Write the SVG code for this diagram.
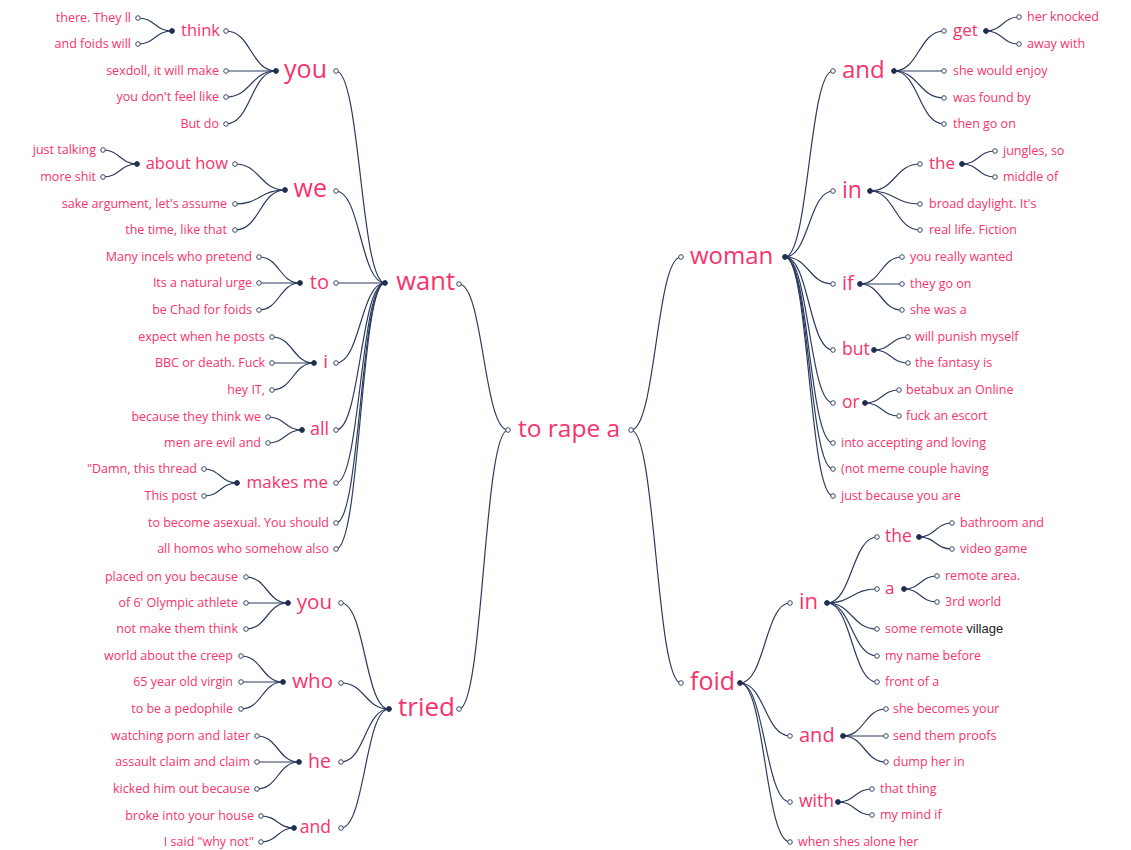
<svg xmlns="http://www.w3.org/2000/svg" width="1131" height="850" viewBox="0 0 1131 850">
<style>
text{font-family:"Open Sans","Noto Sans",sans-serif;fill:#f7336c}
.l{font-size:12.5px}
.e{text-anchor:end}
.o{fill:#fff;stroke:#3a4868;stroke-width:1}
.j{fill:#1f2d4e;stroke:#1f2d4e;stroke-width:1}
#links path{fill:none;stroke:#2b3a5e;stroke-width:1.2}
.v{fill:#222;font-family:"Liberation Sans",Arial,sans-serif;font-size:13px}
</style>
<rect width="1131" height="850" fill="#fff"/>

<g id="links">
<!-- root to second level -->
<path d="M459 284C483.5 284 483.5 430 508 430"/>
<path d="M459 709C483.5 709 483.5 430 508 430"/>
<path d="M631 430C656 430 656 257 681 257"/>
<path d="M631 430C656 430 656 683 681 683"/>
<!-- want -->
<path d="M336 71C360.5 71 360.5 283 385 283"/>
<path d="M336 191C360.5 191 360.5 283 385 283"/>
<path d="M336 283H385"/>
<path d="M336 363C360.5 363 360.5 283 385 283"/>
<path d="M336 430C360.5 430 360.5 283 385 283"/>
<path d="M336 483C360.5 483 360.5 283 385 283"/>
<path d="M336 523C360.5 523 360.5 283 385 283"/>
<path d="M336 549C360.5 549 360.5 283 385 283"/>
<!-- you -->
<path d="M226 31C251 31 251 71 276 71"/>
<path d="M226 71H276"/>
<path d="M226 97C251 97 251 71 276 71"/>
<path d="M226 124C251 124 251 71 276 71"/>
<path d="M138 18C155 18 155 31 172 31"/>
<path d="M138 44C155 44 155 31 172 31"/>
<!-- we -->
<path d="M235 164C260 164 260 190 285 190"/>
<path d="M235 204C260 204 260 190 285 190"/>
<path d="M235 230C260 230 260 190 285 190"/>
<path d="M103 150C120 150 120 164 137 164"/>
<path d="M103 177C120 177 120 164 137 164"/>
<!-- to -->
<path d="M259 257C279.5 257 279.5 283 300 283"/>
<path d="M259 283H300"/>
<path d="M259 310C279.5 310 279.5 283 300 283"/>
<!-- i -->
<path d="M272 337C293 337 293 363 314 363"/>
<path d="M272 363H314"/>
<path d="M272 390C293 390 293 363 314 363"/>
<!-- all -->
<path d="M268 417C285 417 285 430 302 430"/>
<path d="M268 443C285 443 285 430 302 430"/>
<!-- makes me -->
<path d="M204 469C220.5 469 220.5 483 237 483"/>
<path d="M204 496C220.5 496 220.5 483 237 483"/>
<!-- tried -->
<path d="M341 603C365 603 365 709 389 709"/>
<path d="M341 683C365 683 365 709 389 709"/>
<path d="M341 762C365 762 365 709 389 709"/>
<path d="M341 828C365 828 365 709 389 709"/>
<path d="M246 577C267 577 267 603 288 603"/>
<path d="M246 603H288"/>
<path d="M246 629C267 629 267 603 288 603"/>
<path d="M241 656C262 656 262 682 283 682"/>
<path d="M241 682H283"/>
<path d="M241 709C262 709 262 682 283 682"/>
<path d="M257 736C278 736 278 762 299 762"/>
<path d="M257 762H299"/>
<path d="M257 789C278 789 278 762 299 762"/>
<path d="M261 816C277.5 816 277.5 828 294 828"/>
<path d="M261 842C277.5 842 277.5 828 294 828"/>
<!-- woman -->
<path d="M785 257C809 257 809 71 833 71"/>
<path d="M785 257C809 257 809 191 833 191"/>
<path d="M785 257C809 257 809 284 833 284"/>
<path d="M785 257C809 257 809 350 833 350"/>
<path d="M785 257C809 257 809 403 833 403"/>
<path d="M785 257C809 257 809 443 833 443"/>
<path d="M785 257C809 257 809 469 833 469"/>
<path d="M785 257C809 257 809 496 833 496"/>
<path d="M894 71C919 71 919 31 944 31"/>
<path d="M894 71H944"/>
<path d="M894 71C919 71 919 98 944 98"/>
<path d="M894 71C919 71 919 124 944 124"/>
<path d="M986 31C1002.5 31 1002.5 17 1019 17"/>
<path d="M986 31C1002.5 31 1002.5 44 1019 44"/>
<path d="M870 191C895 191 895 164 920 164"/>
<path d="M870 191C895 191 895 204 920 204"/>
<path d="M870 191C895 191 895 230 920 230"/>
<path d="M962 164C978.5 164 978.5 151 995 151"/>
<path d="M962 164C978.5 164 978.5 177 995 177"/>
<path d="M860 284C881 284 881 257 902 257"/>
<path d="M860 284H902"/>
<path d="M860 284C881 284 881 310 902 310"/>
<path d="M874 350C891 350 891 337 908 337"/>
<path d="M874 350C891 350 891 363 908 363"/>
<path d="M865 403C882 403 882 390 899 390"/>
<path d="M865 403C882 403 882 416 899 416"/>
<!-- foid -->
<path d="M740 683C765 683 765 603 790 603"/>
<path d="M740 683C765 683 765 736 790 736"/>
<path d="M740 683C765 683 765 802 790 802"/>
<path d="M740 683C765 683 765 842 790 842"/>
<path d="M827 603C852 603 852 537 877 537"/>
<path d="M827 603C852 603 852 589 877 589"/>
<path d="M827 603C852 603 852 629 877 629"/>
<path d="M827 603C852 603 852 656 877 656"/>
<path d="M827 603C852 603 852 682 877 682"/>
<path d="M919 537C935.5 537 935.5 523 952 523"/>
<path d="M919 537C935.5 537 935.5 549 952 549"/>
<path d="M904 589C920.5 589 920.5 576 937 576"/>
<path d="M904 589C920.5 589 920.5 602 937 602"/>
<path d="M843 736C864.5 736 864.5 709 886 709"/>
<path d="M843 736H886"/>
<path d="M843 736C864.5 736 864.5 762 886 762"/>
<path d="M838 802C855 802 855 789 872 789"/>
<path d="M838 802C855 802 855 815 872 815"/>
</g>

<!-- root -->
<g id="n-root"><text x="518" y="437" style="font-size:24.5px">to rape a</text><circle class="o" cx="508" cy="430" r="2.3"/><circle class="o" cx="631" cy="430" r="2.3"/></g>

<!-- left half: want -->
<g id="n-want"><text class="e" x="455" y="290" style="font-size:25.5px">want</text><circle class="j" cx="385" cy="283" r="2.4"/><circle class="o" cx="459" cy="284" r="2.3"/></g>
<g id="n-want-you"><text class="e" x="327" y="78" style="font-size:25px">you</text><circle class="j" cx="276" cy="71" r="2.4"/><circle class="o" cx="336" cy="71" r="2.3"/></g>
<g id="n-you-think"><text class="e" x="220" y="35.6" style="font-size:16.5px">think</text><circle class="j" cx="172" cy="31" r="2.4"/><circle class="o" cx="226" cy="31" r="2.3"/></g>
<g id="l-1"><text class="l e" x="131" y="21.5">there. They ll</text><circle class="o" cx="138" cy="18" r="2.3"/></g>
<g id="l-2"><text class="l e" x="131" y="47.5">and foids will</text><circle class="o" cx="138" cy="44" r="2.3"/></g>
<g id="l-3"><text class="l e" x="219" y="74.5">sexdoll, it will make</text><circle class="o" cx="226" cy="71" r="2.3"/></g>
<g id="l-4"><text class="l e" x="219" y="100.5">you don't feel like</text><circle class="o" cx="226" cy="97" r="2.3"/></g>
<g id="l-5"><text class="l e" x="219" y="127.5">But do</text><circle class="o" cx="226" cy="124" r="2.3"/></g>
<g id="n-want-we"><text class="e" x="327" y="197" style="font-size:25px">we</text><circle class="j" cx="285" cy="190" r="2.4"/><circle class="o" cx="336" cy="191" r="2.3"/></g>
<g id="n-we-about"><text class="e" x="228" y="168.6" style="font-size:16.5px">about how</text><circle class="j" cx="137" cy="164" r="2.4"/><circle class="o" cx="235" cy="164" r="2.3"/></g>
<g id="l-6"><text class="l e" x="96" y="153.5">just talking</text><circle class="o" cx="103" cy="150" r="2.3"/></g>
<g id="l-7"><text class="l e" x="96" y="180.5">more shit</text><circle class="o" cx="103" cy="177" r="2.3"/></g>
<g id="l-8"><text class="l e" x="227" y="207.5">sake argument, let's assume</text><circle class="o" cx="235" cy="204" r="2.3"/></g>
<g id="l-9"><text class="l e" x="227" y="233.5">the time, like that</text><circle class="o" cx="235" cy="230" r="2.3"/></g>
<g id="n-want-to"><text class="e" x="329" y="288.6" style="font-size:20px">to</text><circle class="j" cx="300" cy="283" r="2.4"/><circle class="o" cx="336" cy="283" r="2.3"/></g>
<g id="l-10"><text class="l e" x="252" y="260.5">Many incels who pretend</text><circle class="o" cx="259" cy="257" r="2.3"/></g>
<g id="l-11"><text class="l e" x="252" y="286.5">Its a natural urge</text><circle class="o" cx="259" cy="283" r="2.3"/></g>
<g id="l-12"><text class="l e" x="252" y="313.5">be Chad for foids</text><circle class="o" cx="259" cy="310" r="2.3"/></g>
<g id="n-want-i"><text class="e" x="328" y="368.3" style="font-size:19px">i</text><circle class="j" cx="314" cy="363" r="2.4"/><circle class="o" cx="336" cy="363" r="2.3"/></g>
<g id="l-13"><text class="l e" x="265" y="340.5">expect when he posts</text><circle class="o" cx="272" cy="337" r="2.3"/></g>
<g id="l-14"><text class="l e" x="265" y="366.5">BBC or death. Fuck</text><circle class="o" cx="272" cy="363" r="2.3"/></g>
<g id="l-15"><text class="l e" x="265" y="393.5">hey IT,</text><circle class="o" cx="272" cy="390" r="2.3"/></g>
<g id="n-want-all"><text class="e" x="329" y="435" style="font-size:18px">all</text><circle class="j" cx="302" cy="430" r="2.4"/><circle class="o" cx="336" cy="430" r="2.3"/></g>
<g id="l-16"><text class="l e" x="261" y="420.5">because they think we</text><circle class="o" cx="268" cy="417" r="2.3"/></g>
<g id="l-17"><text class="l e" x="261" y="446.5">men are evil and</text><circle class="o" cx="268" cy="443" r="2.3"/></g>
<g id="n-want-makes"><text class="e" x="328" y="488" style="font-size:17px">makes me</text><circle class="j" cx="237" cy="483" r="2.4"/><circle class="o" cx="336" cy="483" r="2.3"/></g>
<g id="l-18"><text class="l e" x="197" y="472.5">"Damn, this thread</text><circle class="o" cx="204" cy="469" r="2.3"/></g>
<g id="l-19"><text class="l e" x="197" y="499.5">This post</text><circle class="o" cx="204" cy="496" r="2.3"/></g>
<g id="l-20"><text class="l e" x="329" y="526.5">to become asexual. You should</text><circle class="o" cx="336" cy="523" r="2.3"/></g>
<g id="l-21"><text class="l e" x="329" y="552.5">all homos who somehow also</text><circle class="o" cx="336" cy="549" r="2.3"/></g>

<!-- left half: tried -->
<g id="n-tried"><text class="e" x="455" y="716" style="font-size:26px">tried</text><circle class="j" cx="389" cy="709" r="2.4"/><circle class="o" cx="459" cy="709" r="2.3"/></g>
<g id="n-tried-you"><text class="e" x="332" y="609" style="font-size:20.5px">you</text><circle class="j" cx="288" cy="603" r="2.4"/><circle class="o" cx="341" cy="603" r="2.3"/></g>
<g id="l-22"><text class="l e" x="238" y="580.5">placed on you because</text><circle class="o" cx="246" cy="577" r="2.3"/></g>
<g id="l-23"><text class="l e" x="238" y="606.5">of 6' Olympic athlete</text><circle class="o" cx="246" cy="603" r="2.3"/></g>
<g id="l-24"><text class="l e" x="238" y="632.5">not make them think</text><circle class="o" cx="246" cy="629" r="2.3"/></g>
<g id="n-tried-who"><text class="e" x="333" y="688" style="font-size:20.5px">who</text><circle class="j" cx="283" cy="682" r="2.4"/><circle class="o" cx="341" cy="683" r="2.3"/></g>
<g id="l-25"><text class="l e" x="233" y="659.5">world about the creep</text><circle class="o" cx="241" cy="656" r="2.3"/></g>
<g id="l-26"><text class="l e" x="233" y="685.5">65 year old virgin</text><circle class="o" cx="241" cy="682" r="2.3"/></g>
<g id="l-27"><text class="l e" x="233" y="712.5">to be a pedophile</text><circle class="o" cx="241" cy="709" r="2.3"/></g>
<g id="n-tried-he"><text class="e" x="331" y="767.5" style="font-size:19.5px">he</text><circle class="j" cx="299" cy="762" r="2.4"/><circle class="o" cx="341" cy="762" r="2.3"/></g>
<g id="l-28"><text class="l e" x="250" y="739.5">watching porn and later</text><circle class="o" cx="257" cy="736" r="2.3"/></g>
<g id="l-29"><text class="l e" x="250" y="765.5">assault claim and claim</text><circle class="o" cx="257" cy="762" r="2.3"/></g>
<g id="l-30"><text class="l e" x="250" y="792.5">kicked him out because</text><circle class="o" cx="257" cy="789" r="2.3"/></g>
<g id="n-tried-and"><text class="e" x="331" y="833" style="font-size:17.5px">and</text><circle class="j" cx="294" cy="828" r="2.4"/><circle class="o" cx="341" cy="828" r="2.3"/></g>
<g id="l-31"><text class="l e" x="254" y="819.5">broke into your house</text><circle class="o" cx="261" cy="816" r="2.3"/></g>
<g id="l-32"><text class="l e" x="254" y="845.5">I said "why not"</text><circle class="o" cx="261" cy="842" r="2.3"/></g>

<!-- right half: woman -->
<g id="n-woman"><text x="690" y="263.7" style="font-size:24px">woman</text><circle class="o" cx="681" cy="257" r="2.3"/><circle class="j" cx="785" cy="257" r="2.4"/></g>
<g id="n-woman-and"><text x="842" y="78" style="font-size:24px">and</text><circle class="o" cx="833" cy="71" r="2.3"/><circle class="j" cx="894" cy="71" r="2.4"/></g>
<g id="n-and-get"><text x="953" y="36" style="font-size:17px">get</text><circle class="o" cx="944" cy="31" r="2.3"/><circle class="j" cx="986" cy="31" r="2.4"/></g>
<g id="r-1"><text class="l" x="1027" y="20.5">her knocked</text><circle class="o" cx="1019" cy="17" r="2.3"/></g>
<g id="r-2"><text class="l" x="1027" y="47.5">away with</text><circle class="o" cx="1019" cy="44" r="2.3"/></g>
<g id="r-3"><text class="l" x="953" y="74.5">she would enjoy</text><circle class="o" cx="944" cy="71" r="2.3"/></g>
<g id="r-4"><text class="l" x="953" y="101.5">was found by</text><circle class="o" cx="944" cy="98" r="2.3"/></g>
<g id="r-5"><text class="l" x="953" y="127.5">then go on</text><circle class="o" cx="944" cy="124" r="2.3"/></g>
<g id="n-woman-in"><text x="842" y="197.5" style="font-size:23px">in</text><circle class="o" cx="833" cy="191" r="2.3"/><circle class="j" cx="870" cy="191" r="2.4"/></g>
<g id="n-in-the"><text x="929" y="168.8" style="font-size:17px">the</text><circle class="o" cx="920" cy="164" r="2.3"/><circle class="j" cx="962" cy="164" r="2.4"/></g>
<g id="r-6"><text class="l" x="1003" y="154.5">jungles, so</text><circle class="o" cx="995" cy="151" r="2.3"/></g>
<g id="r-7"><text class="l" x="1003" y="180.5">middle of</text><circle class="o" cx="995" cy="177" r="2.3"/></g>
<g id="r-8"><text class="l" x="929" y="207.5">broad daylight. It's</text><circle class="o" cx="920" cy="204" r="2.3"/></g>
<g id="r-9"><text class="l" x="929" y="233.5">real life. Fiction</text><circle class="o" cx="920" cy="230" r="2.3"/></g>
<g id="n-woman-if"><text x="842" y="289.6" style="font-size:20px">if</text><circle class="o" cx="833" cy="284" r="2.3"/><circle class="j" cx="860" cy="284" r="2.4"/></g>
<g id="r-10"><text class="l" x="910" y="260.5">you really wanted</text><circle class="o" cx="902" cy="257" r="2.3"/></g>
<g id="r-11"><text class="l" x="910" y="287.5">they go on</text><circle class="o" cx="902" cy="284" r="2.3"/></g>
<g id="r-12"><text class="l" x="910" y="313.5">she was a</text><circle class="o" cx="902" cy="310" r="2.3"/></g>
<g id="n-woman-but"><text x="842" y="355" style="font-size:17.5px">but</text><circle class="o" cx="833" cy="350" r="2.3"/><circle class="j" cx="874" cy="350" r="2.4"/></g>
<g id="r-13"><text class="l" x="915" y="340.5">will punish myself</text><circle class="o" cx="908" cy="337" r="2.3"/></g>
<g id="r-14"><text class="l" x="915" y="366.5">the fantasy is</text><circle class="o" cx="908" cy="363" r="2.3"/></g>
<g id="n-woman-or"><text x="842" y="408" style="font-size:17.5px">or</text><circle class="o" cx="833" cy="403" r="2.3"/><circle class="j" cx="865" cy="403" r="2.4"/></g>
<g id="r-15"><text class="l" x="906" y="393.5">betabux an Online</text><circle class="o" cx="899" cy="390" r="2.3"/></g>
<g id="r-16"><text class="l" x="906" y="419.5">fuck an escort</text><circle class="o" cx="899" cy="416" r="2.3"/></g>
<g id="r-17"><text class="l" x="841" y="446.5">into accepting and loving</text><circle class="o" cx="833" cy="443" r="2.3"/></g>
<g id="r-18"><text class="l" x="841" y="472.5">(not meme couple having</text><circle class="o" cx="833" cy="469" r="2.3"/></g>
<g id="r-19"><text class="l" x="841" y="499.5">just because you are</text><circle class="o" cx="833" cy="496" r="2.3"/></g>

<!-- right half: foid -->
<g id="n-foid"><text x="690" y="690" style="font-size:25px">foid</text><circle class="o" cx="681" cy="683" r="2.3"/><circle class="j" cx="740" cy="683" r="2.4"/></g>
<g id="n-foid-in"><text x="799" y="609" style="font-size:22px">in</text><circle class="o" cx="790" cy="603" r="2.3"/><circle class="j" cx="827" cy="603" r="2.4"/></g>
<g id="n-in-the2"><text x="885" y="542" style="font-size:17.5px">the</text><circle class="o" cx="877" cy="537" r="2.3"/><circle class="j" cx="919" cy="537" r="2.4"/></g>
<g id="r-20"><text class="l" x="960" y="526.5">bathroom and</text><circle class="o" cx="952" cy="523" r="2.3"/></g>
<g id="r-21"><text class="l" x="960" y="552.5">video game</text><circle class="o" cx="952" cy="549" r="2.3"/></g>
<g id="n-in-a"><text x="885" y="594" style="font-size:17px">a</text><circle class="o" cx="877" cy="589" r="2.3"/><circle class="j" cx="904" cy="589" r="2.4"/></g>
<g id="r-22"><text class="l" x="945" y="579.5">remote area.</text><circle class="o" cx="937" cy="576" r="2.3"/></g>
<g id="r-23"><text class="l" x="945" y="605.5">3rd world</text><circle class="o" cx="937" cy="602" r="2.3"/></g>
<g id="r-24"><text class="l" x="885" y="632.5">some remote <tspan class="v">village</tspan></text><circle class="o" cx="877" cy="629" r="2.3"/></g>
<g id="r-25"><text class="l" x="885" y="659.5">my name before</text><circle class="o" cx="877" cy="656" r="2.3"/></g>
<g id="r-26"><text class="l" x="885" y="685.5">front of a</text><circle class="o" cx="877" cy="682" r="2.3"/></g>
<g id="n-foid-and"><text x="799" y="741.6" style="font-size:20px">and</text><circle class="o" cx="790" cy="736" r="2.3"/><circle class="j" cx="843" cy="736" r="2.4"/></g>
<g id="r-27"><text class="l" x="893" y="712.5">she becomes your</text><circle class="o" cx="886" cy="709" r="2.3"/></g>
<g id="r-28"><text class="l" x="893" y="739.5">send them proofs</text><circle class="o" cx="886" cy="736" r="2.3"/></g>
<g id="r-29"><text class="l" x="893" y="765.5">dump her in</text><circle class="o" cx="886" cy="762" r="2.3"/></g>
<g id="n-foid-with"><text x="799" y="807" style="font-size:17.5px">with</text><circle class="o" cx="790" cy="802" r="2.3"/><circle class="j" cx="838" cy="802" r="2.4"/></g>
<g id="r-30"><text class="l" x="880" y="792.5">that thing</text><circle class="o" cx="872" cy="789" r="2.3"/></g>
<g id="r-31"><text class="l" x="880" y="818.5">my mind if</text><circle class="o" cx="872" cy="815" r="2.3"/></g>
<g id="r-32"><text class="l" x="798" y="845.5">when shes alone her</text><circle class="o" cx="790" cy="842" r="2.3"/></g>
</svg>
